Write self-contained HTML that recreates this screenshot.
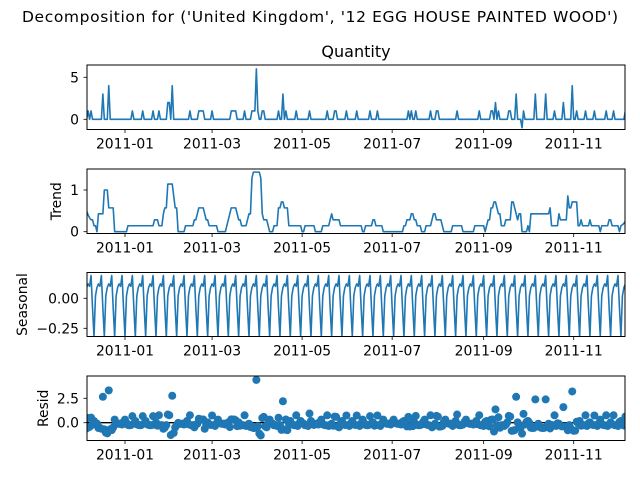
<!DOCTYPE html>
<html><head><meta charset="utf-8"><style>
body{margin:0;background:#fff}
svg{display:block;font-family:"DejaVu Sans","Liberation Sans",sans-serif}
</style></head><body>
<svg id="c" width="640" height="480" viewBox="0 0 640 480">
<text x="320" y="22" font-size="15.5" text-anchor="middle" textLength="596">Decomposition for ('United Kingdom', '12 EGG HOUSE PAINTED WOOD')</text>
<text x="356" y="57" font-size="16" text-anchor="middle">Quantity</text>
</svg>
<script>
// ---- data ----
const startDay = -26;           // days relative to 2011-01-01
const nDays = 366;
const spikeDays = [-25,-23,-15,-11,5,12,19,23,29,30,32,44,50,51,52,53,59,72,73,74,75,81,86,87,88,89,90,93,94,104,107,109,116,125,137,142,143,150,157,166,171,192,194,197,207,211,212,225,240,248,249,251,253,260,261,265,269,270,278,285,291,297,303,306,312,318,326,331,339];
const spikeValues = [1,1,3,4,1,1,1,1,2,2,4,1,1,1,1,1,1,1,1,1,1,1,1,1,1,6,1,1,1,1,3,1,1,1,1,1,1,1,1,1,1,1,1,1,1,1,1,1,1,1,1,2,1,1,1,3,-1,1,3,3,1,2,4,1,1,1,1,1,1];
const seasonalPattern = [0.19,-0.08,-0.32,0.02,0.09,0.12,0.10];
const seasonalPhase = 3;
const xTickLabels = ['2011-01','2011-03','2011-05','2011-07','2011-09','2011-11'];
const xTickDays = [0,59,120,181,243,304];

// ---- decomposition ----
const observed = new Array(nDays).fill(0);
spikeDays.forEach((d,k)=>{ observed[d-startDay] += spikeValues[k]; });
const trend = observed.map((v,i)=>{let s=0,c=0;for(let j=i-3;j<=i+3;j++){if(j>=0&&j<nDays){s+=observed[j];c++;}}return s/c;});
const seasonal = observed.map((v,i)=>seasonalPattern[((i-seasonalPhase)%7+7)%7]);
const resid = observed.map((v,i)=>v-trend[i]-seasonal[i]);

// ---- drawing ----
const svg=document.getElementById('c');
const NS='http://www.w3.org/2000/svg';
const X0=87,X1=625;
const pxPerDay=1.476;
const xOfDay=d=>125+d*pxPerDay;
function el(t,a){const e=document.createElementNS(NS,t);for(const k in a)e.setAttribute(k,a[k]);svg.appendChild(e);return e;}
const panels=[
 {name:'observed',data:observed,top:65,bot:129.5,y0v:0,y0:119.3,ppu:8.4,ticks:[0,5],fmt:v=>String(v),ylabel:'',lx:0,kind:'line'},
 {name:'trend',data:trend,top:169,bot:233.5,y0v:0,y0:231.7,ppu:41.7,ticks:[0,1],fmt:v=>String(v),ylabel:'Trend',lx:61,kind:'line'},
 {name:'seasonal',data:seasonal,top:272.5,bot:336.5,y0v:0,y0:298.3,ppu:120,ticks:[0,-0.25],fmt:v=>v===0?'0.00':'\u22120.25',ylabel:'Seasonal',lx:27,kind:'line'},
 {name:'resid',data:resid,top:376,bot:440.5,y0v:0,y0:422.7,ppu:9.77,ticks:[0,2.5],fmt:v=>v.toFixed(1),ylabel:'Resid',lx:48,kind:'dots'}
];
panels.forEach(p=>{
  const yOf=v=>p.y0-(v-p.y0v)*p.ppu;
  const clip=el('clipPath',{id:'clip-'+p.name});
  const r=document.createElementNS(NS,'rect');r.setAttribute('x',X0);r.setAttribute('y',p.top);r.setAttribute('width',X1-X0);r.setAttribute('height',p.bot-p.top);clip.appendChild(r);
  if(p.kind==='line'){
    const pts=p.data.map((v,i)=>xOfDay(i+startDay).toFixed(2)+','+yOf(v).toFixed(2)).join(' ');
    const pl=el('polyline',{points:pts,fill:'none',stroke:'#1f77b4','stroke-width':1.6,'stroke-linejoin':'round','clip-path':'url(#clip-'+p.name+')'});
    
    
  } else {
    const g=el('g',{'clip-path':'url(#clip-'+p.name+')'});
    
    
    p.data.forEach((v,i)=>{
      const c=document.createElementNS(NS,'circle');
      c.setAttribute('cx',xOfDay(i+startDay).toFixed(2));c.setAttribute('cy',yOf(v).toFixed(2));c.setAttribute('r',4);c.setAttribute('fill','#1f77b4');
      
      
      g.appendChild(c);
    });
    const z=el('line',{x1:X0,x2:X1,y1:yOf(0),y2:yOf(0),stroke:'#000','stroke-width':1.3,'clip-path':'url(#clip-'+p.name+')'});
    
    
    svg.insertBefore(z,g);
  }
  const fr=el('rect',{x:X0,y:p.top,width:X1-X0,height:p.bot-p.top,fill:'none',stroke:'#000','stroke-width':1});
  
  
  p.ticks.forEach(t=>{
    const y=yOf(t);
    const tk=el('line',{x1:X0-3.5,x2:X0,y1:y,y2:y,stroke:'#000','stroke-width':0.8});
    
    
    const tl=el('text',{x:X0-8,y:y+5,'font-size':13.9,'text-anchor':'end'});
    tl.textContent=p.fmt(t);
    
    
  });
  xTickDays.forEach((d,k)=>{
    const x=xOfDay(d);
    const tk=el('line',{x1:x,x2:x,y1:p.bot,y2:p.bot+3.5,stroke:'#000','stroke-width':0.8});
    
    
    const tl=el('text',{x:x,y:p.bot+19,'font-size':13.9,'text-anchor':'middle'});
    tl.textContent=xTickLabels[k];
    
    
  });
  if(p.ylabel){
    const cy=(p.top+p.bot)/2;
    const yl=el('text',{x:0,y:0,'font-size':13.9,'text-anchor':'middle',transform:'translate('+p.lx+','+cy+') rotate(-90)'});
    yl.textContent=p.ylabel;
    
    
  }
});
</script>
</body></html>
